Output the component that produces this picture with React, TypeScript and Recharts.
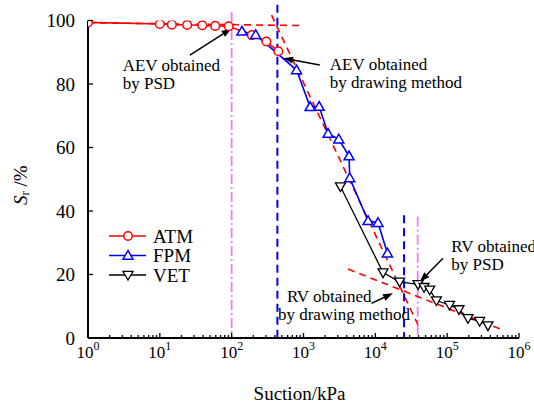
import React from 'react';
import { ComposedChart, Line, XAxis, YAxis, ReferenceLine, ReferenceDot, Legend } from 'recharts';

const FONT = 'Liberation Serif, Times New Roman, serif';

// ---- data (suction in kPa, degree of saturation Sr in %) ----
const atmSuction = [1, 10, 14.7, 24, 39, 59, 91, 191, 304, 446];
const atmSr = [99.4, 98.9, 98.7, 98.6, 98.5, 98.3, 98.2, 95.4, 93.4, 90.3];

const fpmSuction = [139, 216, 800, 1236, 1650, 2198, 3098, 4309, 4404, 7914, 10900, 14740];
const fpmSr = [96.6, 95.5, 84.4, 72.8, 72.9, 64.4, 62.6, 57.3, 50.4, 36.9, 36.3, 26.7];

const vetSuction = [3270, 12800, 21800, 39300, 47600, 57100, 70800, 108000, 146000, 195000, 283000, 370000];
const vetSr = [47.7, 20.6, 17.7, 16.9, 16.0, 15.2, 11.8, 10.4, 9.0, 6.2, 5.3, 3.9];

// tangent (drawing-method) lines: [suction, Sr] end points
const tangentFlat = [[1, 99.3], [890, 98.4]];
const tangentSteep = [[359, 101.7], [39300, 4.1]];
const tangentResidual = [[4170, 21.7], [567000, 2.7]];

// vertical markers
const aevDrawing = 433;
const aevPsd = 100;
const rvDrawing = 25100;
const rvPsd = 38900;
const aevDrawingTop = 105;
const aevPsdTop = 102.7;
const rvDrawingTop = 38.7;
const rvPsdTop = 38.2;

// annotation arrows: tail -> head
const arrows = [
  [[26.2, 89.1], [99.7, 97.5]],
  [[1686, 86.0], [520, 88.1]],
  [[87500, 25.1], [41500, 17.7]],
  [[8830, 10.9], [17600, 14.1]],
];

// annotation texts
const notes = [
  { x: 3.04, y: 84.2, lines: ['AEV obtained', 'by PSD'], dx: [0, 0] },
  { x: 2322, y: 84.4, lines: ['AEV obtained', 'by drawing method'], dx: [0, 0] },
  { x: 114000, y: 27.2, lines: ['RV obtained', 'by PSD'], dx: [0, 0] },
  { x: 440, y: 11.2, lines: ['RV obtained', 'by drawing method'], dx: [9, 0] },
];

const xMajorTicks = [1, 10, 100, 1000, 10000, 100000, 1000000];
const xMinorFactors = [2, 3, 4, 5, 6, 7, 8, 9];
const yTicks = [0, 20, 40, 60, 80, 100];

const xTicks: number[] = [];
xMajorTicks.forEach((m, i) => {
  xTicks.push(m);
  if (i < xMajorTicks.length - 1) xMinorFactors.forEach((f) => xTicks.push(m * f));
});

const toPts = (xs: number[], ys: number[]) => xs.map((x, i) => ({ x, y: ys[i] }));
const atmData = toPts(atmSuction, atmSr);
const fpmData = toPts(fpmSuction, fpmSr);
const vetData = toPts(vetSuction, vetSr);

const Circle = (p: any) =>
  p.cx == null ? null : <circle cx={p.cx} cy={p.cy} r={4.3} fill="#fff" stroke="#ff0000" strokeWidth={1.5} />;
const TriUp = (p: any) =>
  p.cx == null ? null : (
    <polygon
      points={`${p.cx},${p.cy - 5} ${p.cx - 5},${p.cy + 3.7} ${p.cx + 5},${p.cy + 3.7}`}
      fill="#fff"
      stroke="#0000ff"
      strokeWidth={1.5}
    />
  );
const TriDown = (p: any) =>
  p.cx == null ? null : (
    <polygon
      points={`${p.cx},${p.cy + 5} ${p.cx - 5},${p.cy - 3.7} ${p.cx + 5},${p.cy - 3.7}`}
      fill="#fff"
      stroke="#000"
      strokeWidth={1.3}
    />
  );

const XTick = (props: any) => {
  const { x, y, payload } = props;
  const v = payload.value;
  const lg = Math.log10(v);
  const e = Math.round(lg);
  const major = Math.abs(lg - e) < 1e-9;
  return (
    <g>
      <line x1={x} x2={x} y1={y} y2={y - (major ? 5 : 3)} stroke="#000" strokeWidth={1.3} />
      {major && (
        <text x={x} y={y + 20} textAnchor="middle" style={{ fontFamily: FONT }} fontSize={17} fill="#000">
          <tspan>10</tspan>
          <tspan dy={-8} fontSize={12}>{e}</tspan>
        </text>
      )}
    </g>
  );
};

const YTick = (props: any) => {
  const { x, y, payload } = props;
  return (
    <g>
      <line x1={x} x2={x + 5} y1={y} y2={y} stroke="#000" strokeWidth={1.3} />
      <text x={x - 13} y={y + 6.5} textAnchor="end" style={{ fontFamily: FONT }} fontSize={19} fill="#000">
        {payload.value}
      </text>
    </g>
  );
};

const Arrow = (p: any) => {
  const { x1, y1, x2, y2 } = p;
  if (x1 == null) return null;
  const ang = Math.atan2(y2 - y1, x2 - x1);
  const L = 10;
  const W = 3.5;
  const bx = x2 - L * Math.cos(ang);
  const by = y2 - L * Math.sin(ang);
  const px = -Math.sin(ang) * W;
  const py = Math.cos(ang) * W;
  return (
    <g>
      <line x1={x1} y1={y1} x2={bx} y2={by} stroke="#000" strokeWidth={1.5} />
      <polygon points={`${x2},${y2} ${bx + px},${by + py} ${bx - px},${by - py}`} fill="#000" />
    </g>
  );
};

const makeNote = (n: any) => (p: any) =>
  p.cx == null ? null : (
    <text style={{ fontFamily: FONT }} fontSize={17} fill="#000">
      <tspan x={p.cx + n.dx[0]} y={p.cy}>{n.lines[0]}</tspan>
      <tspan x={p.cx + n.dx[1]} y={p.cy + 18}>{n.lines[1]}</tspan>
    </text>
  );

const legendItems = [
  { name: 'ATM', color: '#ff0000', shape: 'circle' },
  { name: 'FPM', color: '#0000ff', shape: 'up' },
  { name: 'VET', color: '#000000', shape: 'down' },
];

const LegendContent = () => (
  <svg width={110} height={64} style={{ display: 'block' }}>
    {legendItems.map((it, i) => {
      const cy = 10 + i * 19.5;
      const cx = 28;
      return (
        <g key={it.name}>
          <line x1={9} x2={46} y1={cy} y2={cy} stroke={it.color} strokeWidth={1.5} />
          {it.shape === 'circle' && <Circle cx={cx} cy={cy} />}
          {it.shape === 'up' && <TriUp cx={cx} cy={cy} />}
          {it.shape === 'down' && <TriDown cx={cx} cy={cy} />}
          <text x={53} y={cy + 6.5} style={{ fontFamily: FONT }} fontSize={19} fill="#000">
            {it.name}
          </text>
        </g>
      );
    })}
  </svg>
);

const YLabel = (p: any) => {
  const vb = p.viewBox;
  const cx = vb.x - 18;
  const cy = vb.y + vb.height / 2 + 6;
  return (
    <text
      x={cx}
      y={cy}
      transform={`rotate(-90, ${cx}, ${cy})`}
      textAnchor="middle"
      dominantBaseline="central"
      style={{ fontFamily: FONT }}
      fontSize={19}
      fill="#000"
    >
      <tspan fontStyle="italic">S</tspan>
      <tspan fontSize={13} dy={4}>r</tspan>
      <tspan dy={-4}> /%</tspan>
    </text>
  );
};

const XLabel = (p: any) => {
  const vb = p.viewBox;
  return (
    <text x={vb.x + vb.width / 2 - 4} y={vb.y + 62} textAnchor="middle" style={{ fontFamily: FONT }} fontSize={19} fill="#000">
      Suction/kPa
    </text>
  );
};

const MAGENTA = '#f07cf0';

export default function App() {
  return (
    <div style={{ position: 'absolute', left: 0, top: 0, width: 534, height: 405, background: '#fff' }}>
      <ComposedChart width={534} height={405} margin={{ top: 20.5, right: 15, bottom: 27, left: 38 }}>
        <XAxis
          type="number"
          dataKey="x"
          scale="log"
          domain={[1, 1000000]}
          allowDataOverflow
          ticks={xTicks}
          interval={0}
          tick={<XTick />}
          tickLine={false}
          tickSize={0}
          tickMargin={0}
          axisLine={{ stroke: '#000', strokeWidth: 2 }}
          height={40}
          label={<XLabel />}
        />
        <YAxis
          type="number"
          dataKey="y"
          domain={[0, 100]}
          allowDataOverflow
          ticks={yTicks}
          interval={0}
          tick={<YTick />}
          tickLine={false}
          tickSize={0}
          tickMargin={0}
          axisLine={{ stroke: '#000', strokeWidth: 2 }}
          width={50}
          label={<YLabel />}
        />
        <Legend
          layout="horizontal"
          verticalAlign="middle"
          align="center"
          content={<LegendContent />}
          wrapperStyle={{ position: 'absolute', left: 100, top: 226, width: 110, height: 64 }}
        />

        <ReferenceLine
          segment={[{ x: aevPsd, y: aevPsdTop }, { x: aevPsd, y: 0 }]}
          stroke={MAGENTA}
          strokeWidth={1.8}
          strokeDasharray="10 3 2 3"
          ifOverflow="visible"
        />
        <ReferenceLine
          segment={[{ x: rvPsd, y: rvPsdTop }, { x: rvPsd, y: 0 }]}
          stroke={MAGENTA}
          strokeWidth={1.8}
          strokeDasharray="10 3 2 3"
          ifOverflow="visible"
        />
        <ReferenceLine
          segment={[{ x: aevDrawing, y: aevDrawingTop }, { x: aevDrawing, y: 0 }]}
          stroke="#0000ff"
          strokeWidth={2}
          strokeDasharray="8 5"
          ifOverflow="visible"
        />
        <ReferenceLine
          segment={[{ x: rvDrawing, y: rvDrawingTop }, { x: rvDrawing, y: 0 }]}
          stroke="#0000ff"
          strokeWidth={2}
          strokeDasharray="8 5"
          ifOverflow="visible"
        />
        {[tangentFlat, tangentSteep, tangentResidual].map((t, i) => (
          <ReferenceLine
            key={'t' + i}
            segment={[{ x: t[0][0], y: t[0][1] }, { x: t[1][0], y: t[1][1] }]}
            stroke="#ff0000"
            strokeWidth={1.6}
            strokeDasharray="7 5"
            ifOverflow="visible"
          />
        ))}

        <Line
          data={atmData}
          dataKey="y"
          name="ATM"
          stroke="#ff0000"
          strokeWidth={1.6}
          dot={<Circle />}
          activeDot={false}
          isAnimationActive={false}
        />
        <Line
          data={fpmData}
          dataKey="y"
          name="FPM"
          stroke="#0000ff"
          strokeWidth={1.6}
          dot={<TriUp />}
          activeDot={false}
          isAnimationActive={false}
        />
        <Line
          data={vetData}
          dataKey="y"
          name="VET"
          stroke="#000"
          strokeWidth={1.3}
          dot={<TriDown />}
          activeDot={false}
          isAnimationActive={false}
        />

        {arrows.map((a, i) => (
          <ReferenceLine
            key={'a' + i}
            segment={[{ x: a[0][0], y: a[0][1] }, { x: a[1][0], y: a[1][1] }]}
            shape={Arrow}
            ifOverflow="visible"
          />
        ))}
        {notes.map((n, i) => (
          <ReferenceDot key={'n' + i} x={n.x} y={n.y} r={0} shape={makeNote(n)} ifOverflow="visible" />
        ))}
      </ComposedChart>
    </div>
  );
}
